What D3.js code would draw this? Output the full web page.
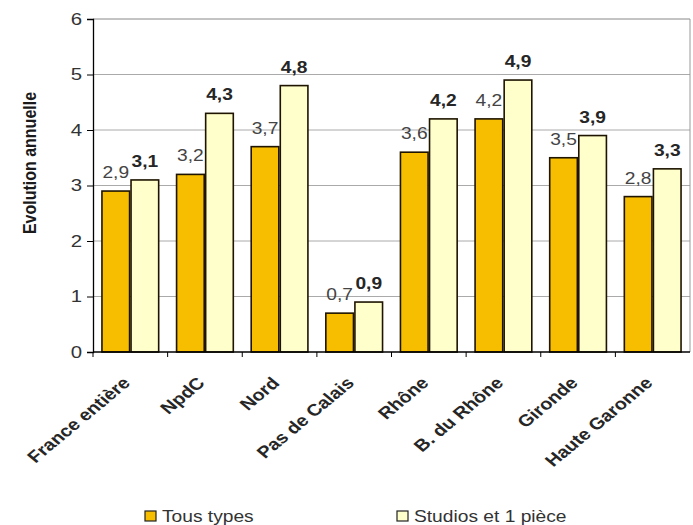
<!DOCTYPE html>
<html>
<head>
<meta charset="utf-8">
<script src="https://cdn.jsdelivr.net/npm/d3@7"></script>
<style>
  body { margin: 0; background: #fff; }
  svg { display: block; font-family: "Liberation Sans", Arial, sans-serif; }
</style>
</head>
<body>
<svg width="693" height="525"></svg>
<script>
var categories = ["France entière", "NpdC", "Nord", "Pas de Calais", "Rhône", "B. du Rhône", "Gironde", "Haute Garonne"];
var tousTypes = [2.9, 3.2, 3.7, 0.7, 3.6, 4.2, 3.5, 2.8];
var studios = [3.1, 4.3, 4.8, 0.9, 4.2, 4.9, 3.9, 3.3];
var seriesNames = ["Tous types", "Studios et 1 pièce"];
var yTicks = [0, 1, 2, 3, 4, 5, 6];

var colors = ["#f7be00", "#ffffcc"];
var stretch = 1.2; // the picture is a bit wider than tall text would be

var svg = d3.select('svg');

// careful: "top" is taken by window.top
var plotL = 93, plotR = 690, plotT = 19, plotB = 352;

var scaleY = d3.scaleLinear().domain([0, 6]).range([plotB, plotT]);
var scaleX = d3.scaleBand().domain(categories).range([plotL, plotR]).paddingInner(0.24).paddingOuter(0.12);
var scaleSeries = d3.scaleBand().domain(seriesNames).range([0, scaleX.bandwidth()]).paddingInner(0.05);

var fmt = function(v) { return d3.format('.1f')(v).replace('.', ','); };

// grid
svg.append('g')
    .selectAll('line')
    .data(yTicks.slice(1))
    .enter()
    .append('line')
    .attr('x1', plotL)
    .attr('x2', plotR)
    .attr('y1', function(d) { return scaleY(d); })
    .attr('y2', function(d) { return scaleY(d); })
    .attr('stroke', function(d) { return d == 6 ? '#888' : '#aaa'; })
    .attr('stroke-width', 1);

svg.append('line')
    .attr('x1', plotR).attr('x2', plotR)
    .attr('y1', scaleY(6)).attr('y2', scaleY(0))
    .attr('stroke', '#999');

// bars
var rows = categories.map(function(c, i) {
    return { cat: c, values: [tousTypes[i], studios[i]] };
});

var groups = svg.selectAll('.grp')
    .data(rows)
    .enter()
    .append('g')
    .attr('class', 'grp')
    .attr('transform', function(d) { return 'translate(' + scaleX(d.cat) + ',0)'; });

groups.selectAll('rect')
    .data(function(d) { return d.values.map(function(v, j) { return { s: seriesNames[j], v: v, j: j }; }); })
    .enter()
    .append('rect')
    .attr('x', function(d) { return scaleSeries(d.s); })
    .attr('y', function(d) { return scaleY(d.v); })
    .attr('width', scaleSeries.bandwidth())
    .attr('height', function(d) { return scaleY(0) - scaleY(d.v); })
    .attr('fill', function(d) { return colors[d.j]; })
    .attr('stroke', '#1e1400')
    .attr('stroke-width', 1.6);

groups.selectAll('text')
    .data(function(d) { return d.values.map(function(v, j) { return { s: seriesNames[j], v: v, j: j }; }); })
    .enter()
    .append('text')
    .text(function(d) { return fmt(d.v); })
    .attr('transform', function(d) {
        return 'translate(' + (scaleSeries(d.s) + scaleSeries.bandwidth() / 2) + ',' + (scaleY(d.v) - 13) + ') scale(' + stretch + ',1)';
    })
    .attr('font-size', 16)
    .attr('font-weight', function(d) { return d.j == 1 ? 'bold' : 'normal'; })
    .attr('fill', function(d) { return d.j == 1 ? '#262626' : '#444'; })
    .style('text-anchor', 'middle');

// y axis
var yAxis = svg.append('g')
    .attr('transform', 'translate(' + plotL + ',0)')
    .call(d3.axisLeft(scaleY).tickValues(yTicks).tickSize(6).tickPadding(4).tickFormat(d3.format('d')));
yAxis.select('.domain').attr('stroke', '#000').attr('stroke-width', 1.3);
yAxis.selectAll('.tick line').attr('stroke', '#000');
yAxis.selectAll('.tick text')
    .attr('font-size', 17)
    .attr('font-family', '"Liberation Sans", Arial, sans-serif')
    .attr('fill', '#333')
    .attr('transform', 'scale(' + stretch + ',1)')
    .attr('x', -11 / stretch);

// x axis line + ticks at band boundaries
svg.append('line')
    .attr('x1', plotL).attr('x2', plotR)
    .attr('y1', plotB).attr('y2', plotB)
    .attr('stroke', '#000').attr('stroke-width', 1.3);

var step = scaleX.step();
svg.append('g')
    .selectAll('line')
    .data(categories)
    .enter()
    .append('line')
    .attr('x1', function(d) { return scaleX(d) - step * 0.12; })
    .attr('x2', function(d) { return scaleX(d) - step * 0.12; })
    .attr('y1', plotB)
    .attr('y2', plotB + 5)
    .attr('stroke', '#000');

svg.append('g')
    .selectAll('text')
    .data(categories)
    .enter()
    .append('text')
    .text(function(d) { return d; })
    .attr('transform', function(d) {
        return 'translate(' + (scaleX(d) + scaleX.bandwidth() / 2 + 1) + ',384) scale(' + stretch + ',1) rotate(-45)';
    })
    .attr('font-size', 16.5)
    .attr('font-weight', 'bold')
    .attr('fill', '#262626')
    .style('text-anchor', 'end');

// y title
svg.append('text')
    .text('Evolution annuelle')
    .attr('transform', 'translate(36,163) scale(' + stretch + ',1) rotate(-90)')
    .attr('font-size', 16)
    .attr('font-weight', 'bold')
    .attr('fill', '#1a1a1a')
    .style('text-anchor', 'middle');

// legend
var legendX = [145, 397];
var legend = svg.selectAll('.leg')
    .data(seriesNames)
    .enter()
    .append('g')
    .attr('class', 'leg')
    .attr('transform', function(d, i) { return 'translate(' + legendX[i] + ',511)'; });

legend.append('rect')
    .attr('width', 11)
    .attr('height', 10)
    .attr('fill', function(d, i) { return colors[i]; })
    .attr('stroke', '#222')
    .attr('stroke-width', 1.2);

legend.append('text')
    .text(function(d) { return d; })
    .attr('transform', 'translate(17,11) scale(' + stretch + ',1)')
    .attr('font-size', 16)
    .attr('fill', '#333');
</script>
</body>
</html>
